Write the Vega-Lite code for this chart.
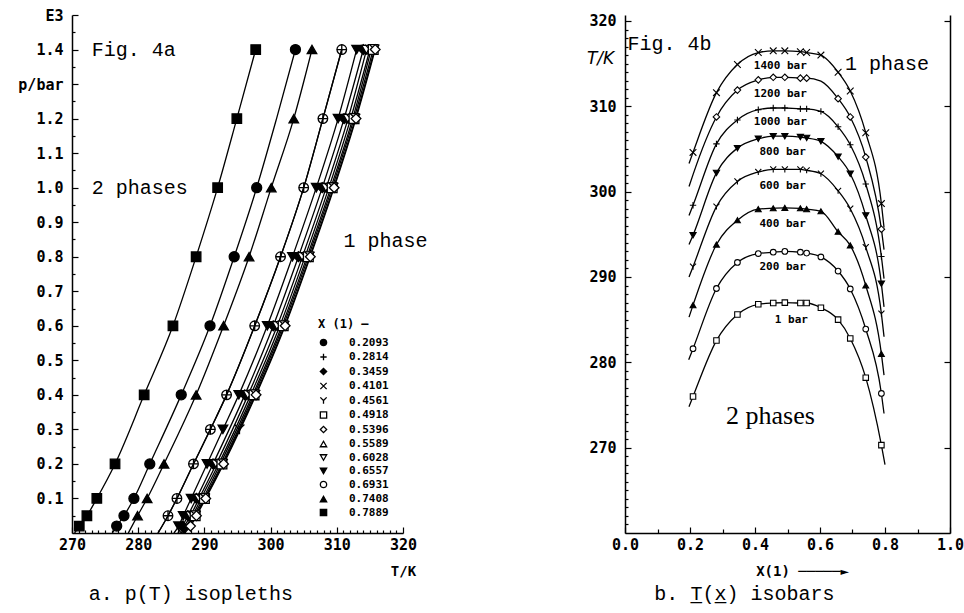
{
  "$schema": "https://vega.github.io/schema/vega-lite/v6.json",
  "background": "white",
  "padding": {"left": 17, "top": 8, "right": 2, "bottom": 1},
  "bounds": "flush",
  "spacing": 222,
  "resolve": {"scale": {"shape": "independent", "fill": "independent", "size": "independent", "stroke": "independent"}, "legend": {"shape": "independent", "fill": "independent", "size": "independent", "stroke": "independent"}},
  "datasets": {
    "iso": [
      {"c":"0.7889","T":270.4,"p":0,"m":0},
      {"c":"0.7889","T":271.1,"p":0.02,"m":1},
      {"c":"0.7889","T":272.25,"p":0.05,"m":1},
      {"c":"0.7889","T":273.75,"p":0.1,"m":1},
      {"c":"0.7889","T":276.5,"p":0.2,"m":1},
      {"c":"0.7889","T":280.9,"p":0.4,"m":1},
      {"c":"0.7889","T":285.25,"p":0.6,"m":1},
      {"c":"0.7889","T":288.75,"p":0.8,"m":1},
      {"c":"0.7889","T":292.0,"p":1.0,"m":1},
      {"c":"0.7889","T":294.9,"p":1.2,"m":1},
      {"c":"0.7889","T":297.75,"p":1.4,"m":1},
      {"c":"0.2093","T":276.1,"p":0,"m":0},
      {"c":"0.2093","T":276.75,"p":0.02,"m":1},
      {"c":"0.2093","T":277.85,"p":0.05,"m":1},
      {"c":"0.2093","T":279.35,"p":0.1,"m":1},
      {"c":"0.2093","T":281.75,"p":0.2,"m":1},
      {"c":"0.2093","T":286.5,"p":0.4,"m":1},
      {"c":"0.2093","T":290.85,"p":0.6,"m":1},
      {"c":"0.2093","T":294.5,"p":0.8,"m":1},
      {"c":"0.2093","T":297.9,"p":1.0,"m":1},
      {"c":"0.2093","T":300.9,"p":1.2,"m":0},
      {"c":"0.2093","T":303.75,"p":1.4,"m":1},
      {"c":"0.7408","T":278.5,"p":0,"m":0},
      {"c":"0.7408","T":279.9,"p":0.05,"m":1},
      {"c":"0.7408","T":281.35,"p":0.1,"m":1},
      {"c":"0.7408","T":283.9,"p":0.2,"m":1},
      {"c":"0.7408","T":288.75,"p":0.4,"m":1},
      {"c":"0.7408","T":292.9,"p":0.6,"m":1},
      {"c":"0.7408","T":296.75,"p":0.8,"m":1},
      {"c":"0.7408","T":300.1,"p":1.0,"m":1},
      {"c":"0.7408","T":303.5,"p":1.2,"m":1},
      {"c":"0.7408","T":306.25,"p":1.4,"m":1},
      {"c":"0.6931","T":283.0,"p":0,"m":0},
      {"c":"0.6931","T":284.5,"p":0.05,"m":1},
      {"c":"0.6931","T":285.85,"p":0.1,"m":1},
      {"c":"0.6931","T":288.35,"p":0.2,"m":1},
      {"c":"0.6931","T":290.9,"p":0.3,"m":1},
      {"c":"0.6931","T":293.35,"p":0.4,"m":1},
      {"c":"0.6931","T":297.6,"p":0.6,"m":1},
      {"c":"0.6931","T":301.5,"p":0.8,"m":1},
      {"c":"0.6931","T":305.0,"p":1.0,"m":1},
      {"c":"0.6931","T":307.9,"p":1.2,"m":1},
      {"c":"0.6931","T":310.75,"p":1.4,"m":1},
      {"c":"0.2814","T":283.0,"p":0,"m":0},
      {"c":"0.2814","T":284.5,"p":0.05,"m":1},
      {"c":"0.2814","T":285.85,"p":0.1,"m":1},
      {"c":"0.2814","T":288.35,"p":0.2,"m":1},
      {"c":"0.2814","T":290.9,"p":0.3,"m":1},
      {"c":"0.2814","T":293.35,"p":0.4,"m":1},
      {"c":"0.2814","T":297.6,"p":0.6,"m":1},
      {"c":"0.2814","T":301.5,"p":0.8,"m":1},
      {"c":"0.2814","T":305.0,"p":1.0,"m":1},
      {"c":"0.2814","T":307.9,"p":1.2,"m":1},
      {"c":"0.2814","T":310.75,"p":1.4,"m":1},
      {"c":"0.6557","T":285.4,"p":0,"m":0},
      {"c":"0.6557","T":286.1,"p":0.02,"m":1},
      {"c":"0.6557","T":286.8,"p":0.05,"m":1},
      {"c":"0.6557","T":288.0,"p":0.1,"m":1},
      {"c":"0.6557","T":290.4,"p":0.2,"m":1},
      {"c":"0.6557","T":292.8,"p":0.3,"m":1},
      {"c":"0.6557","T":295.2,"p":0.4,"m":1},
      {"c":"0.6557","T":299.5,"p":0.6,"m":1},
      {"c":"0.6557","T":303.3,"p":0.8,"m":1},
      {"c":"0.6557","T":306.9,"p":1.0,"m":1},
      {"c":"0.6557","T":310.2,"p":1.2,"m":1},
      {"c":"0.6557","T":313.0,"p":1.4,"m":1},
      {"c":"0.3459","T":286.0,"p":0,"m":0},
      {"c":"0.3459","T":286.7,"p":0.02,"m":1},
      {"c":"0.3459","T":287.5,"p":0.05,"m":1},
      {"c":"0.3459","T":288.8,"p":0.1,"m":1},
      {"c":"0.3459","T":291.3,"p":0.2,"m":1},
      {"c":"0.3459","T":296.1,"p":0.4,"m":1},
      {"c":"0.3459","T":300.4,"p":0.6,"m":1},
      {"c":"0.3459","T":304.2,"p":0.8,"m":1},
      {"c":"0.3459","T":307.8,"p":1.0,"m":1},
      {"c":"0.3459","T":311.1,"p":1.2,"m":1},
      {"c":"0.3459","T":314.0,"p":1.4,"m":1},
      {"c":"0.6028","T":286.3,"p":0,"m":0},
      {"c":"0.6028","T":287.9,"p":0.05,"m":1},
      {"c":"0.6028","T":289.2,"p":0.1,"m":1},
      {"c":"0.6028","T":291.8,"p":0.2,"m":1},
      {"c":"0.6028","T":296.6,"p":0.4,"m":1},
      {"c":"0.6028","T":301.0,"p":0.6,"m":1},
      {"c":"0.6028","T":304.8,"p":0.8,"m":1},
      {"c":"0.6028","T":308.4,"p":1.0,"m":1},
      {"c":"0.6028","T":311.7,"p":1.2,"m":1},
      {"c":"0.6028","T":314.5,"p":1.4,"m":1},
      {"c":"0.4101","T":286.5,"p":0,"m":0},
      {"c":"0.4101","T":288.2,"p":0.05,"m":1},
      {"c":"0.4101","T":289.5,"p":0.1,"m":1},
      {"c":"0.4101","T":292.15,"p":0.2,"m":1},
      {"c":"0.4101","T":297.0,"p":0.4,"m":1},
      {"c":"0.4101","T":301.4,"p":0.6,"m":1},
      {"c":"0.4101","T":305.2,"p":0.8,"m":1},
      {"c":"0.4101","T":308.8,"p":1.0,"m":1},
      {"c":"0.4101","T":312.1,"p":1.2,"m":1},
      {"c":"0.4101","T":315.0,"p":1.4,"m":1},
      {"c":"0.5589","T":286.7,"p":0,"m":0},
      {"c":"0.5589","T":288.4,"p":0.05,"m":1},
      {"c":"0.5589","T":289.8,"p":0.1,"m":1},
      {"c":"0.5589","T":292.4,"p":0.2,"m":1},
      {"c":"0.5589","T":297.3,"p":0.4,"m":1},
      {"c":"0.5589","T":301.7,"p":0.6,"m":1},
      {"c":"0.5589","T":305.5,"p":0.8,"m":1},
      {"c":"0.5589","T":309.1,"p":1.0,"m":1},
      {"c":"0.5589","T":312.4,"p":1.2,"m":1},
      {"c":"0.5589","T":315.2,"p":1.4,"m":1},
      {"c":"0.4918","T":286.8,"p":0,"m":0},
      {"c":"0.4918","T":288.6,"p":0.05,"m":1},
      {"c":"0.4918","T":290.0,"p":0.1,"m":1},
      {"c":"0.4918","T":292.65,"p":0.2,"m":1},
      {"c":"0.4918","T":297.5,"p":0.4,"m":1},
      {"c":"0.4918","T":301.9,"p":0.6,"m":1},
      {"c":"0.4918","T":305.7,"p":0.8,"m":1},
      {"c":"0.4918","T":309.3,"p":1.0,"m":1},
      {"c":"0.4918","T":312.6,"p":1.2,"m":1},
      {"c":"0.4918","T":315.5,"p":1.4,"m":1},
      {"c":"0.4561","T":286.9,"p":0,"m":0},
      {"c":"0.4561","T":288.7,"p":0.05,"m":1},
      {"c":"0.4561","T":290.1,"p":0.1,"m":1},
      {"c":"0.4561","T":292.8,"p":0.2,"m":1},
      {"c":"0.4561","T":295.3,"p":0.3,"m":1},
      {"c":"0.4561","T":297.7,"p":0.4,"m":1},
      {"c":"0.4561","T":302.1,"p":0.6,"m":1},
      {"c":"0.4561","T":305.9,"p":0.8,"m":1},
      {"c":"0.4561","T":309.5,"p":1.0,"m":1},
      {"c":"0.4561","T":312.8,"p":1.2,"m":1},
      {"c":"0.4561","T":315.7,"p":1.4,"m":1},
      {"c":"0.5396","T":287.0,"p":0,"m":0},
      {"c":"0.5396","T":287.9,"p":0.02,"m":1},
      {"c":"0.5396","T":288.8,"p":0.05,"m":1},
      {"c":"0.5396","T":290.2,"p":0.1,"m":1},
      {"c":"0.5396","T":292.9,"p":0.2,"m":1},
      {"c":"0.5396","T":297.8,"p":0.4,"m":1},
      {"c":"0.5396","T":302.2,"p":0.6,"m":1},
      {"c":"0.5396","T":306.0,"p":0.8,"m":1},
      {"c":"0.5396","T":309.6,"p":1.0,"m":1},
      {"c":"0.5396","T":312.9,"p":1.2,"m":1},
      {"c":"0.5396","T":315.8,"p":1.4,"m":1}
    ],
    "bars": [
      {"P":"1400 bar","x":0.197,"T":303.3,"m":0},
      {"P":"1400 bar","x":0.2093,"T":304.6,"m":1},
      {"P":"1400 bar","x":0.2814,"T":311.6,"m":1},
      {"P":"1400 bar","x":0.3459,"T":314.9,"m":1},
      {"P":"1400 bar","x":0.4101,"T":316.3,"m":1},
      {"P":"1400 bar","x":0.4561,"T":316.5,"m":1},
      {"P":"1400 bar","x":0.4918,"T":316.5,"m":1},
      {"P":"1400 bar","x":0.5396,"T":316.4,"m":1},
      {"P":"1400 bar","x":0.5589,"T":316.3,"m":1},
      {"P":"1400 bar","x":0.6028,"T":316.0,"m":1},
      {"P":"1400 bar","x":0.6557,"T":314.0,"m":1},
      {"P":"1400 bar","x":0.6931,"T":311.8,"m":1},
      {"P":"1400 bar","x":0.7408,"T":306.9,"m":1},
      {"P":"1400 bar","x":0.7889,"T":298.6,"m":1},
      {"P":"1400 bar","x":0.797,"T":295.8,"m":0},
      {"P":"1200 bar","x":0.197,"T":300.6,"m":0},
      {"P":"1200 bar","x":0.2093,"T":302.0,"m":0},
      {"P":"1200 bar","x":0.2814,"T":308.75,"m":1},
      {"P":"1200 bar","x":0.3459,"T":311.9,"m":1},
      {"P":"1200 bar","x":0.4101,"T":313.1,"m":1},
      {"P":"1200 bar","x":0.4561,"T":313.4,"m":1},
      {"P":"1200 bar","x":0.4918,"T":313.4,"m":1},
      {"P":"1200 bar","x":0.5396,"T":313.3,"m":1},
      {"P":"1200 bar","x":0.5589,"T":313.3,"m":1},
      {"P":"1200 bar","x":0.6028,"T":312.95,"m":0},
      {"P":"1200 bar","x":0.6557,"T":310.9,"m":1},
      {"P":"1200 bar","x":0.6931,"T":308.75,"m":1},
      {"P":"1200 bar","x":0.7408,"T":304.05,"m":1},
      {"P":"1200 bar","x":0.7889,"T":295.6,"m":1},
      {"P":"1200 bar","x":0.797,"T":293.2,"m":0},
      {"P":"1000 bar","x":0.197,"T":297.2,"m":0},
      {"P":"1000 bar","x":0.2093,"T":298.4,"m":1},
      {"P":"1000 bar","x":0.2814,"T":305.6,"m":1},
      {"P":"1000 bar","x":0.3459,"T":308.4,"m":1},
      {"P":"1000 bar","x":0.4101,"T":309.6,"m":1},
      {"P":"1000 bar","x":0.4561,"T":309.8,"m":1},
      {"P":"1000 bar","x":0.4918,"T":309.8,"m":1},
      {"P":"1000 bar","x":0.5396,"T":309.7,"m":1},
      {"P":"1000 bar","x":0.5589,"T":309.7,"m":1},
      {"P":"1000 bar","x":0.6028,"T":309.4,"m":1},
      {"P":"1000 bar","x":0.6557,"T":307.6,"m":1},
      {"P":"1000 bar","x":0.6931,"T":305.5,"m":1},
      {"P":"1000 bar","x":0.7408,"T":300.9,"m":1},
      {"P":"1000 bar","x":0.7889,"T":292.4,"m":1},
      {"P":"1000 bar","x":0.797,"T":289.8,"m":0},
      {"P":"800 bar","x":0.197,"T":293.8,"m":0},
      {"P":"800 bar","x":0.2093,"T":294.9,"m":1},
      {"P":"800 bar","x":0.2814,"T":302.2,"m":1},
      {"P":"800 bar","x":0.3459,"T":305.1,"m":1},
      {"P":"800 bar","x":0.4101,"T":306.2,"m":1},
      {"P":"800 bar","x":0.4561,"T":306.5,"m":1},
      {"P":"800 bar","x":0.4918,"T":306.5,"m":1},
      {"P":"800 bar","x":0.5396,"T":306.4,"m":1},
      {"P":"800 bar","x":0.5589,"T":306.3,"m":1},
      {"P":"800 bar","x":0.6028,"T":305.9,"m":1},
      {"P":"800 bar","x":0.6557,"T":304.1,"m":1},
      {"P":"800 bar","x":0.6931,"T":302.1,"m":1},
      {"P":"800 bar","x":0.7408,"T":297.2,"m":1},
      {"P":"800 bar","x":0.7889,"T":289.2,"m":1},
      {"P":"800 bar","x":0.797,"T":286.5,"m":0},
      {"P":"600 bar","x":0.197,"T":290.0,"m":0},
      {"P":"600 bar","x":0.2093,"T":291.2,"m":1},
      {"P":"600 bar","x":0.2814,"T":298.25,"m":1},
      {"P":"600 bar","x":0.3459,"T":301.2,"m":1},
      {"P":"600 bar","x":0.4101,"T":302.3,"m":1},
      {"P":"600 bar","x":0.4561,"T":302.6,"m":1},
      {"P":"600 bar","x":0.4918,"T":302.6,"m":1},
      {"P":"600 bar","x":0.5396,"T":302.6,"m":1},
      {"P":"600 bar","x":0.5589,"T":302.5,"m":1},
      {"P":"600 bar","x":0.6028,"T":302.1,"m":1},
      {"P":"600 bar","x":0.6557,"T":300.1,"m":1},
      {"P":"600 bar","x":0.6931,"T":298.0,"m":1},
      {"P":"600 bar","x":0.7408,"T":293.5,"m":1},
      {"P":"600 bar","x":0.7889,"T":285.7,"m":1},
      {"P":"600 bar","x":0.797,"T":283.0,"m":0},
      {"P":"400 bar","x":0.197,"T":285.3,"m":0},
      {"P":"400 bar","x":0.2093,"T":286.7,"m":1},
      {"P":"400 bar","x":0.2814,"T":293.8,"m":1},
      {"P":"400 bar","x":0.3459,"T":296.65,"m":1},
      {"P":"400 bar","x":0.4101,"T":297.95,"m":1},
      {"P":"400 bar","x":0.4561,"T":298.05,"m":1},
      {"P":"400 bar","x":0.4918,"T":298.1,"m":1},
      {"P":"400 bar","x":0.5396,"T":298.05,"m":1},
      {"P":"400 bar","x":0.5589,"T":297.95,"m":1},
      {"P":"400 bar","x":0.6028,"T":297.7,"m":1},
      {"P":"400 bar","x":0.6557,"T":295.3,"m":1},
      {"P":"400 bar","x":0.6931,"T":293.7,"m":1},
      {"P":"400 bar","x":0.7408,"T":289.0,"m":1},
      {"P":"400 bar","x":0.7889,"T":281.0,"m":1},
      {"P":"400 bar","x":0.797,"T":278.5,"m":0},
      {"P":"200 bar","x":0.196,"T":280.3,"m":0},
      {"P":"200 bar","x":0.2093,"T":281.6,"m":1},
      {"P":"200 bar","x":0.2814,"T":288.65,"m":1},
      {"P":"200 bar","x":0.3459,"T":291.7,"m":1},
      {"P":"200 bar","x":0.4101,"T":292.75,"m":1},
      {"P":"200 bar","x":0.4561,"T":292.9,"m":1},
      {"P":"200 bar","x":0.4918,"T":293.0,"m":1},
      {"P":"200 bar","x":0.5396,"T":292.9,"m":1},
      {"P":"200 bar","x":0.5589,"T":292.8,"m":1},
      {"P":"200 bar","x":0.6028,"T":292.35,"m":1},
      {"P":"200 bar","x":0.6557,"T":290.7,"m":1},
      {"P":"200 bar","x":0.6931,"T":288.6,"m":1},
      {"P":"200 bar","x":0.7408,"T":283.9,"m":1},
      {"P":"200 bar","x":0.7889,"T":276.35,"m":1},
      {"P":"200 bar","x":0.797,"T":274.0,"m":0},
      {"P":"1 bar","x":0.197,"T":274.8,"m":0},
      {"P":"1 bar","x":0.2093,"T":276.0,"m":1},
      {"P":"1 bar","x":0.2814,"T":282.55,"m":1},
      {"P":"1 bar","x":0.3459,"T":285.6,"m":1},
      {"P":"1 bar","x":0.4101,"T":286.8,"m":1},
      {"P":"1 bar","x":0.4561,"T":286.95,"m":1},
      {"P":"1 bar","x":0.4918,"T":287.0,"m":1},
      {"P":"1 bar","x":0.5396,"T":286.95,"m":1},
      {"P":"1 bar","x":0.5589,"T":286.95,"m":1},
      {"P":"1 bar","x":0.6028,"T":286.4,"m":1},
      {"P":"1 bar","x":0.6557,"T":285.0,"m":1},
      {"P":"1 bar","x":0.6931,"T":282.8,"m":1},
      {"P":"1 bar","x":0.7408,"T":278.2,"m":1},
      {"P":"1 bar","x":0.7889,"T":270.3,"m":1},
      {"P":"1 bar","x":0.8,"T":268.0,"m":0}
    ],
    "barLabels": [
      {"lab":"1400 bar","x":0.478,"T":314.7},
      {"lab":"1200 bar","x":0.478,"T":311.5},
      {"lab":"1000 bar","x":0.478,"T":308.2},
      {"lab":"800 bar","x":0.485,"T":304.7},
      {"lab":"600 bar","x":0.485,"T":300.7},
      {"lab":"400 bar","x":0.485,"T":296.2},
      {"lab":"200 bar","x":0.485,"T":291.2},
      {"lab":"1 bar","x":0.512,"T":285.0}
    ],
    "notesA": [
      {"t":"Fig. 4a","T":273.0,"p":1.4},
      {"t":"2 phases","T":273.0,"p":1.0},
      {"t":"1 phase","T":311.0,"p":0.845}
    ],
    "notesB": [
      {"t":"Fig. 4b","x":0.008,"T":317.3},
      {"t":"1 phase","x":0.677,"T":314.9}
    ],
    "notesC": [
      {"t":"2 phases","x":0.311,"T":273.7}
    ]
  },
  "hconcat": [
    {
      "width": 331,
      "height": 518,
      "title": {"text": "a. p(T) isopleths", "orient": "bottom", "anchor": "start", "dx": 71, "dy": 4, "offset": 2, "font": "Liberation Mono", "fontSize": 20, "fontWeight": "normal", "color": "black"},
      "resolve": {"axis": {"x": "independent", "y": "independent"}},
      "layer": [
        {
          "data": {"name": "iso"},
          "mark": {"type": "line", "color": "black", "strokeWidth": 1.3, "interpolate": "monotone"},
          "encoding": {
            "x": {"field": "T", "type": "quantitative", "scale": {"domain": [270, 320], "nice": false, "zero": false},
                  "axis": {"orient": "bottom", "values": [270, 280, 290, 300, 310, 320], "tickSize": -6, "labelPadding": 10, "title": "T/K", "titleX": 331, "titleY": 38, "titleAlign": "center", "titleBaseline": "middle"}},
            "y": {"field": "p", "type": "quantitative", "scale": {"domain": [0, 1.5], "nice": false, "zero": false},
                  "axis": {"orient": "left", "values": [0.1, 0.2, 0.3, 0.4, 0.5, 0.6, 0.7, 0.8, 0.9, 1.0, 1.1, 1.2, 1.3, 1.4, 1.5], "labelExpr": "datum.value == 1.3 ? 'p/bar' : (datum.value == 1.5 ? 'E3' : format(datum.value, '.1f'))", "tickSize": -6, "labelPadding": 15, "title": null}},
            "detail": {"field": "c"}
          }
        },
        {
          "data": {"name": "iso"},
          "transform": [{"filter": "datum.m == 1"}],
          "mark": {"type": "point", "stroke": "black", "strokeWidth": 1.3, "opacity": 1},
          "encoding": {
            "x": {"field": "T", "type": "quantitative", "scale": {"domain": [270, 320], "nice": false, "zero": false}, "axis": null},
            "y": {"field": "p", "type": "quantitative", "scale": {"domain": [0, 1.5], "nice": false, "zero": false}, "axis": null},
            "shape": {"field": "c", "type": "nominal",
              "scale": {"domain": ["0.2093","0.2814","0.3459","0.4101","0.4561","0.4918","0.5396","0.5589","0.6028","0.6557","0.6931","0.7408","0.7889"],
                        "range": ["circle","M-1,0L1,0M0,-1L0,1","diamond","M-1,-1L1,1M-1,1L1,-1","M-1,-1L0,0L1,-1M0,0L0,1","square","diamond","triangle-up","triangle-down","triangle-down","circle","triangle-up","square"]},
              "legend": {"orient": "bottom-right", "offset": 14, "title": "X (1)  \u2013", "titleFont": "DejaVu Sans Mono", "titleFontSize": 12, "titleFontWeight": "bold", "titleColor": "black", "labelFont": "DejaVu Sans Mono", "labelFontSize": 11, "labelFontWeight": "bold", "labelColor": "black", "symbolSize": 40, "symbolStrokeWidth": 1.3, "rowPadding": 1.5, "labelOffset": 20, "titlePadding": 6}},
            "fill": {"field": "c", "type": "nominal",
              "scale": {"domain": ["0.2093","0.2814","0.3459","0.4101","0.4561","0.4918","0.5396","0.5589","0.6028","0.6557","0.6931","0.7408","0.7889"],
                        "range": ["black","transparent","black","transparent","transparent","white","white","white","white","black","transparent","black","black"]},
              "legend": {"orient": "bottom-right", "offset": 14, "title": "X (1)  \u2013", "titleFont": "DejaVu Sans Mono", "titleFontSize": 12, "titleFontWeight": "bold", "titleColor": "black", "labelFont": "DejaVu Sans Mono", "labelFontSize": 11, "labelFontWeight": "bold", "labelColor": "black", "symbolSize": 40, "symbolStrokeWidth": 1.3, "rowPadding": 1.5, "labelOffset": 20, "titlePadding": 6}},
            "stroke": {"field": "c", "type": "nominal",
              "scale": {"domain": ["0.2093","0.2814","0.3459","0.4101","0.4561","0.4918","0.5396","0.5589","0.6028","0.6557","0.6931","0.7408","0.7889"],
                        "range": ["black","black","black","black","black","black","black","black","black","black","black","black","black"]},
              "legend": {"orient": "bottom-right", "offset": 14, "title": "X (1)  \u2013", "titleFont": "DejaVu Sans Mono", "titleFontSize": 12, "titleFontWeight": "bold", "titleColor": "black", "labelFont": "DejaVu Sans Mono", "labelFontSize": 11, "labelFontWeight": "bold", "labelColor": "black", "symbolSize": 40, "symbolStrokeWidth": 1.3, "rowPadding": 1.5, "labelOffset": 20, "titlePadding": 6}},
            "size": {"field": "c", "type": "nominal",
              "scale": {"domain": ["0.7889","0.7408","0.6931","0.6557","0.6028","0.5589","0.5396","0.4918","0.4561","0.4101","0.3459","0.2814","0.2093"],
                        "range": [90, 100, 170, 80, 70, 70, 70, 45, 70, 60, 70, 150, 170]},
              "legend": null}
          }
        },
        {
          "data": {"name": "notesA"},
          "mark": {"type": "text", "font": "Liberation Mono", "fontSize": 20, "align": "left", "baseline": "middle", "color": "black"},
          "encoding": {
            "x": {"field": "T", "type": "quantitative", "scale": {"domain": [270, 320], "nice": false, "zero": false},
                  "axis": {"orient": "bottom", "values": [271,272,273,274,275,276,277,278,279,281,282,283,284,285,286,287,288,289,291,292,293,294,295,296,297,298,299,301,302,303,304,305,306,307,308,309,311,312,313,314,315,316,317,318,319], "tickSize": -3, "labels": false, "domain": false, "title": null}},
            "y": {"field": "p", "type": "quantitative", "scale": {"domain": [0, 1.5], "nice": false, "zero": false},
                  "axis": {"orient": "left", "values": [0.05,0.15,0.25,0.35,0.45,0.55,0.65,0.75,0.85,0.95,1.05,1.15,1.25,1.35,1.45], "tickSize": -3, "labels": false, "domain": false, "title": null}},
            "text": {"field": "t"}
          }
        }
      ]
    },
    {
      "width": 325,
      "height": 518,
      "title": {"text": "b. T\u0332(x\u0332) isobars", "orient": "bottom", "anchor": "start", "dx": 68, "dy": 4, "offset": 2, "font": "Liberation Mono", "fontSize": 20, "fontWeight": "normal", "color": "black"},
      "resolve": {"axis": {"x": "independent", "y": "independent"}},
      "layer": [
        {
          "data": {"name": "bars"},
          "mark": {"type": "line", "color": "black", "strokeWidth": 1.3, "interpolate": "monotone"},
          "encoding": {
            "x": {"field": "x", "type": "quantitative", "scale": {"domain": [0, 1], "nice": false},
                  "axis": {"orient": "bottom", "values": [0, 0.2, 0.4, 0.6, 0.8, 1.0], "format": ".1f", "tickSize": -6, "labelPadding": 10, "title": "X(1)    \u2500\u2500\u2500\u2500\u2500\u25ba", "titleX": 177, "titleY": 38, "titleAlign": "center", "titleBaseline": "middle"}},
            "y": {"field": "T", "type": "quantitative", "scale": {"domain": [260, 320.7], "nice": false, "zero": false},
                  "axis": {"orient": "left", "values": [270, 280, 290, 300, 310, 320], "tickSize": -6, "labelPadding": 15, "title": "T/K", "titleAngle": 0, "titleX": -25, "titleY": 43, "titleAlign": "center", "titleBaseline": "middle", "titleFontStyle": "italic", "titleFont": "DejaVu Sans", "titleFontWeight": "normal", "titleFontSize": 17}},
            "detail": {"field": "P"}
          }
        },
        {
          "data": {"name": "bars"},
          "transform": [{"filter": "datum.m == 1"}],
          "mark": {"type": "point", "stroke": "black", "strokeWidth": 1.1, "opacity": 1},
          "encoding": {
            "x": {"field": "x", "type": "quantitative", "scale": {"domain": [0, 1], "nice": false}, "axis": null},
            "y": {"field": "T", "type": "quantitative", "scale": {"domain": [260, 320.7], "nice": false, "zero": false}, "axis": null},
            "shape": {"field": "P", "type": "nominal",
              "scale": {"domain": ["1 bar","200 bar","400 bar","600 bar","800 bar","1000 bar","1200 bar","1400 bar"],
                        "range": ["square","circle","triangle-up","M-1,-1L0,0L1,-1M0,0L0,1","triangle-down","M-1,0L1,0M0,-1L0,1","diamond","M-1,-1L1,1M-1,1L1,-1"]},
              "legend": null},
            "fill": {"field": "P", "type": "nominal",
              "scale": {"domain": ["1 bar","200 bar","400 bar","600 bar","800 bar","1000 bar","1200 bar","1400 bar"],
                        "range": ["white","white","black","transparent","black","transparent","white","transparent"]},
              "legend": null},
            "size": {"field": "P", "type": "nominal",
              "scale": {"domain": ["1 bar","200 bar","400 bar","600 bar","800 bar","1000 bar","1200 bar","1400 bar"],
                        "range": [30, 45, 35, 45, 35, 50, 50, 40]},
              "legend": null}
          }
        },
        {
          "data": {"name": "barLabels"},
          "mark": {"type": "text", "font": "DejaVu Sans Mono", "fontSize": 11, "fontWeight": "bold", "align": "center", "baseline": "middle", "color": "black"},
          "encoding": {
            "x": {"field": "x", "type": "quantitative", "scale": {"domain": [0, 1], "nice": false}, "axis": null},
            "y": {"field": "T", "type": "quantitative", "scale": {"domain": [260, 320.7], "nice": false, "zero": false}, "axis": null},
            "text": {"field": "lab"}
          }
        },
        {
          "data": {"name": "notesB"},
          "mark": {"type": "text", "font": "Liberation Mono", "fontSize": 20, "align": "left", "baseline": "middle", "color": "black"},
          "encoding": {
            "x": {"field": "x", "type": "quantitative", "scale": {"domain": [0, 1], "nice": false},
                  "axis": {"orient": "bottom", "values": [0.1, 0.3, 0.5, 0.7, 0.9], "tickSize": -4, "labels": false, "domain": false, "title": null}},
            "y": {"field": "T", "type": "quantitative", "scale": {"domain": [260, 320.7], "nice": false, "zero": false},
                  "axis": {"orient": "left", "values": [261,262,263,264,265,266,267,268,269,271,272,273,274,275,276,277,278,279,281,282,283,284,285,286,287,288,289,291,292,293,294,295,296,297,298,299,301,302,303,304,305,306,307,308,309,311,312,313,314,315,316,317,318,319], "tickSize": -3, "labels": false, "domain": false, "title": null}},
            "text": {"field": "t"}
          }
        },
        {
          "data": {"name": "notesC"},
          "mark": {"type": "text", "font": "Liberation Serif", "fontSize": 26, "align": "left", "baseline": "middle", "color": "black"},
          "encoding": {
            "x": {"field": "x", "type": "quantitative", "scale": {"domain": [0, 1], "nice": false}, "axis": null},
            "y": {"field": "T", "type": "quantitative", "scale": {"domain": [260, 320.7], "nice": false, "zero": false},
                  "axis": {"orient": "right", "values": [270, 280, 290, 300, 310, 320], "tickSize": -6, "labels": false, "domain": true, "title": null}},
            "text": {"field": "t"}
          }
        }
      ]
    }
  ],
  "config": {
    "view": {"stroke": null},
    "axis": {"grid": false, "labelFlush": false, "labelOverlap": false, "domainColor": "black", "domainWidth": 1.5, "tickColor": "black", "tickWidth": 1.2, "labelColor": "black", "labelFont": "DejaVu Sans Mono", "labelFontSize": 15, "labelFontWeight": "bold", "titleColor": "black", "titleFont": "DejaVu Sans Mono", "titleFontSize": 14, "titleFontWeight": "bold"}
  }
}
